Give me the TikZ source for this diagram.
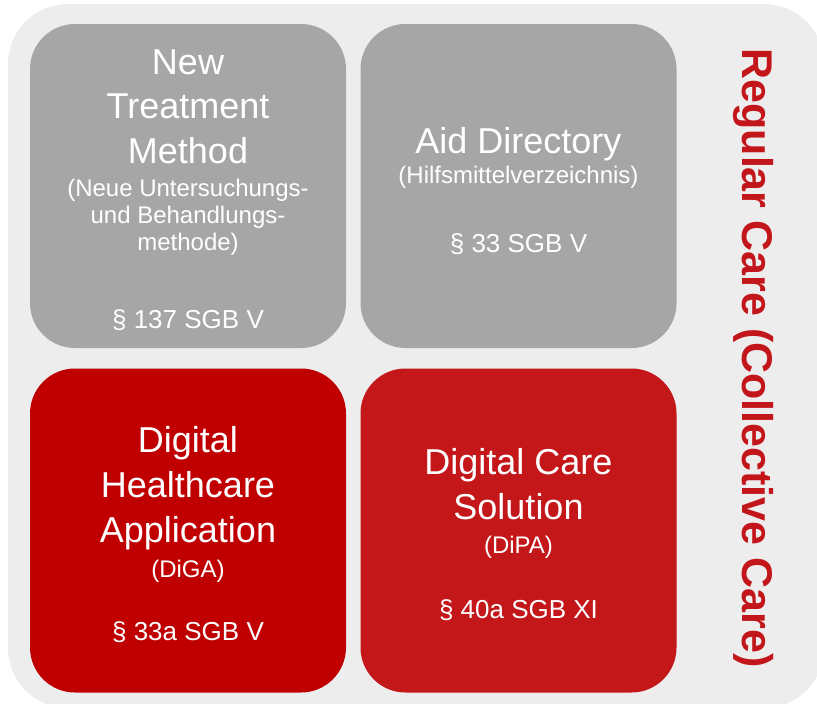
\documentclass[tikz,border=0pt]{standalone}
\usepackage{fontspec}
\setmainfont{Liberation Sans}
\definecolor{bggray}{HTML}{EDEDED}
\definecolor{tilegray}{HTML}{A6A6A6}
\definecolor{darkred}{HTML}{C00000}
\definecolor{lightred}{HTML}{C3171A}
\definecolor{titlered}{HTML}{C3161B}
\begin{document}
\begin{tikzpicture}[x=1pt,y=-1pt,
  tile/.style={rounded corners=45pt, minimum width=316pt, minimum height=324pt, inner sep=0pt, draw=none},
  bigtxt/.style={text=white, font=\fontsize{36}{36}\selectfont, anchor=base, inner sep=0pt},
  smalltxt/.style={text=white, font=\fontsize{24}{24}\selectfont, anchor=base, inner sep=0pt},
  lawtxt/.style={text=white, font=\fontsize{26}{26}\selectfont, anchor=base, inner sep=0pt},
  titletxt/.style={text=titlered, font=\fontsize{43}{43}\selectfont\bfseries, anchor=base, inner sep=0pt, rotate=-90}]
\useasboundingbox (0,0) rectangle (817,704);
\fill[bggray, rounded corners=60pt] (8,4) rectangle (824,708);
% tiles
\node[tile, fill=tilegray] (ntm) at (188,186) {};
\node[tile, fill=tilegray] (aid) at (518.5,186) {};
\node[tile, fill=darkred] (diga) at (188,530.5) {};
\node[tile, fill=lightred] (dipa) at (518.5,530.5) {};
% box 1
\node[bigtxt] (t1a) at (188,74) {New};
\node[bigtxt] (t1b) at (188,118) {Treatment};
\node[bigtxt] (t1c) at (188,163) {Method};
\node[smalltxt] (t1d) at (188,196) {(Neue Untersuchungs-};
\node[smalltxt] (t1e) at (188,223) {und Behandlungs-};
\node[smalltxt] (t1f) at (188,250) {methode)};
\node[lawtxt] (t1g) at (188,328) {§ 137 SGB V};
% box 2
\node[bigtxt] (t2a) at (518.5,153) {Aid Directory};
\node[smalltxt] (t2b) at (518.5,183) {(Hilfsmittelverzeichnis)};
\node[lawtxt] (t2c) at (518.5,252) {§ 33 SGB V};
% box 3
\node[bigtxt] (t3a) at (188,452) {Digital};
\node[bigtxt] (t3b) at (188,497) {Healthcare};
\node[bigtxt] (t3c) at (188,542) {Application};
\node[smalltxt] (t3d) at (188,577) {(DiGA)};
\node[lawtxt] (t3e) at (188,640) {§ 33a SGB V};
% box 4
\node[bigtxt] (t4a) at (518.5,474) {Digital Care};
\node[bigtxt] (t4b) at (518.5,519) {Solution};
\node[smalltxt] (t4c) at (518.5,553) {(DiPA)};
\node[lawtxt] (t4d) at (518.5,618) {§ 40a SGB XI};
% title
\node[titletxt] (title) at (742,358) {Regular Care (Collective Care)};
\end{tikzpicture}
\end{document}
